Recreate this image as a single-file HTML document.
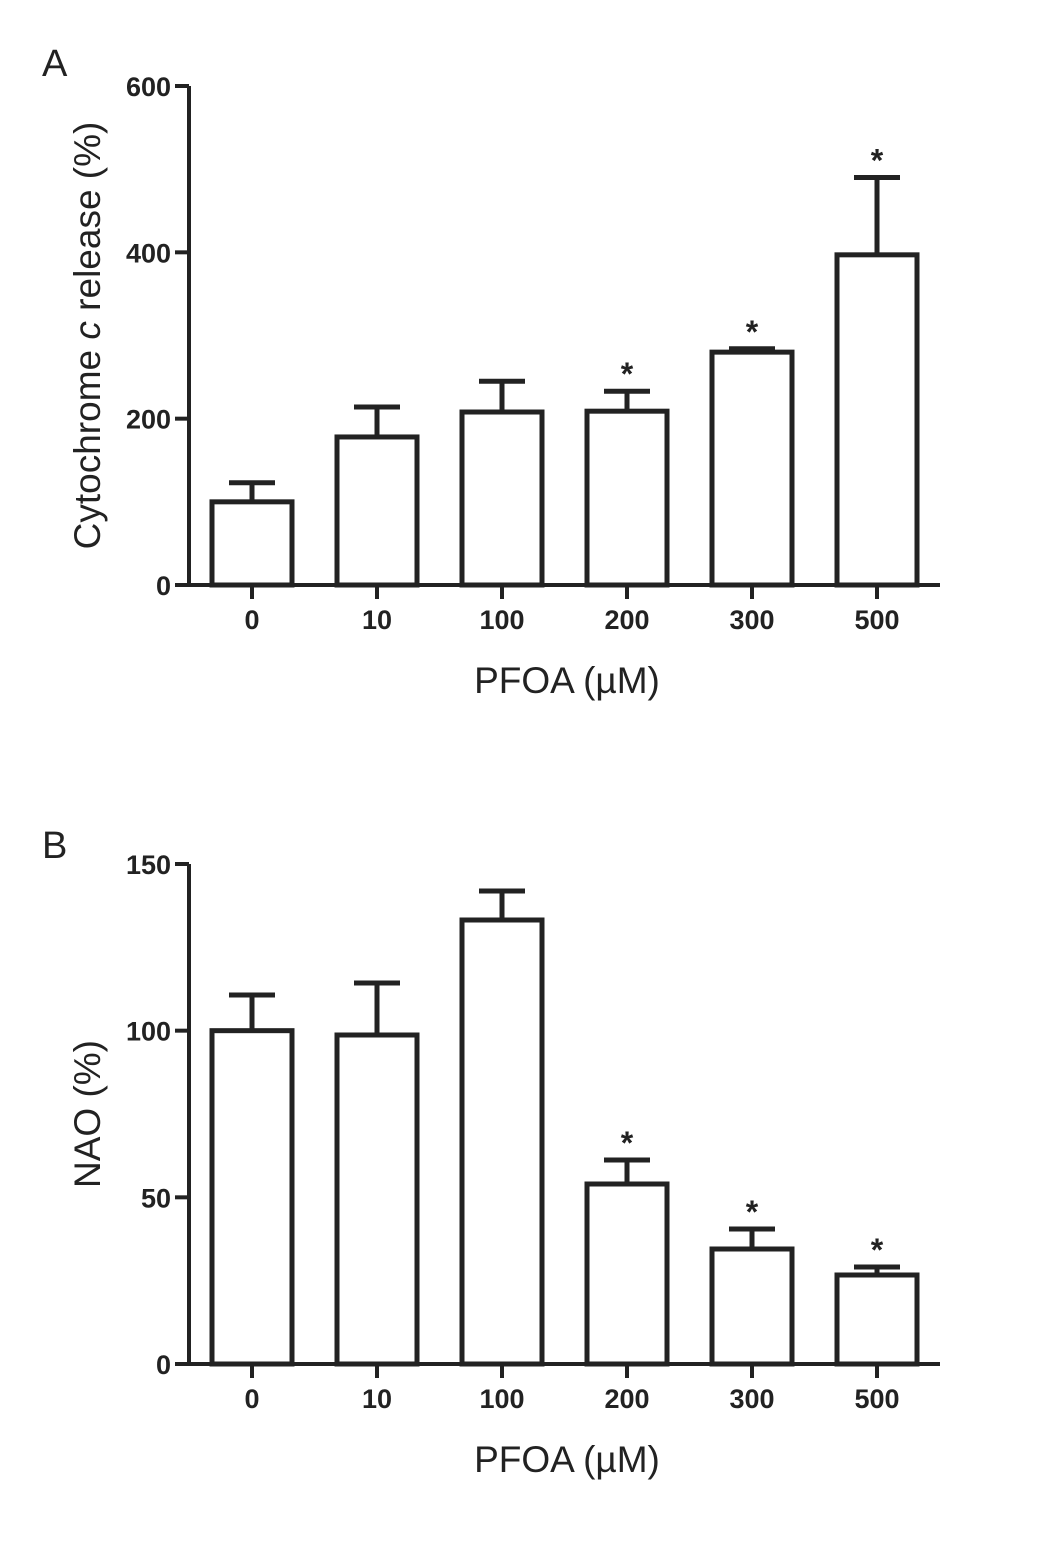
<!DOCTYPE html>
<html><head><meta charset="utf-8"><style>
body{margin:0;background:#fff}
text{font-family:"Liberation Sans",sans-serif;fill:#222}
.tk{font-weight:bold;font-size:27px}
</style></head><body>
<svg id="s" width="1063" height="1539" xmlns="http://www.w3.org/2000/svg">
<text x="42" y="76" font-size="38">A</text>
<text x="42" y="858" font-size="38">B</text>
</svg>
<script>
const categories=["0","10","100","200","300","500"];
const valuesA=[100,178,208,209,280,397];
const errorsA=[123,214,245,233,284,490];
const sigA=[false,false,false,true,true,true];
const ticksA=[0,200,400,600];
const valuesB=[100,98.7,133.2,54,34.5,26.7];
const errorsB=[110.7,114.3,141.9,61.2,40.5,29.1];
const sigB=[false,false,false,true,true,true];
const ticksB=[0,50,100,150];
const svg=document.getElementById('s');
const NS='http://www.w3.org/2000/svg';
function mk(tag,attrs,name,txt){const e=document.createElementNS(NS,tag);for(const k in attrs)e.setAttribute(k,attrs[k]);


if(txt!==undefined)e.textContent=txt;svg.appendChild(e);return e;}
function panel(p,vals,errs,sig,ticks,ymax,y0,y1,ytitle){
 const ax=189,xr=940;
 const y=v=>y0-(v/ymax)*(y0-y1);
 const xc=i=>252+i*125;
 vals.forEach((v,i)=>{
  mk('line',{x1:xc(i),x2:xc(i),y1:y(v),y2:y(errs[i]),stroke:'#222','stroke-width':5},p+'-error-bar-'+categories[i]);
  mk('line',{x1:xc(i)-23,x2:xc(i)+23,y1:y(errs[i]),y2:y(errs[i]),stroke:'#222','stroke-width':5},p+'-error-cap-'+categories[i]);
  mk('rect',{x:xc(i)-40,y:y(v),width:80,height:y0-y(v),fill:'#fff',stroke:'#222','stroke-width':5},p+'-bar-'+categories[i]);
  if(sig[i])mk('text',{x:xc(i),y:y(errs[i])-6,'text-anchor':'middle','font-size':32,'font-weight':'bold'},p+'-significance-'+categories[i],'*');
  mk('line',{x1:xc(i),x2:xc(i),y1:y0,y2:y0+14,stroke:'#222','stroke-width':4},p+'-x-tick');
  mk('text',{x:xc(i),y:y0+44,'text-anchor':'middle',class:'tk'},p+'-x-tick-label',categories[i]);
 });
 mk('line',{x1:ax,x2:ax,y1:y1,y2:y0+2,stroke:'#222','stroke-width':4},p+'-y-axis');
 mk('line',{x1:ax-14,x2:xr,y1:y0,y2:y0,stroke:'#222','stroke-width':4},p+'-x-axis');
 ticks.forEach(t=>{
  mk('line',{x1:ax-14,x2:ax,y1:y(t),y2:y(t),stroke:'#222','stroke-width':4},p+'-y-tick');
  mk('text',{x:ax-18,y:y(t)+10,'text-anchor':'end',class:'tk'},p+'-y-tick-label',t);
 });
 mk('text',{x:567,y:y0+108,'text-anchor':'middle','font-size':37},p+'-x-axis-title','PFOA (µM)');
 const cy=(y0+y1)/2;
 const t=mk('text',{x:0,y:0,'text-anchor':'middle','font-size':37,transform:`translate(100,${cy}) rotate(-90)`},p+'-y-axis-title');
 return t;
}
const ta=panel('a',valuesA,errorsA,sigA,ticksA,600,585,86);
ta.innerHTML='Cytochrome <tspan font-style="italic">c</tspan> release (%)';
const tb=panel('b',valuesB,errorsB,sigB,ticksB,150,1364,864);
tb.textContent='NAO (%)';
</script>
</body></html>
